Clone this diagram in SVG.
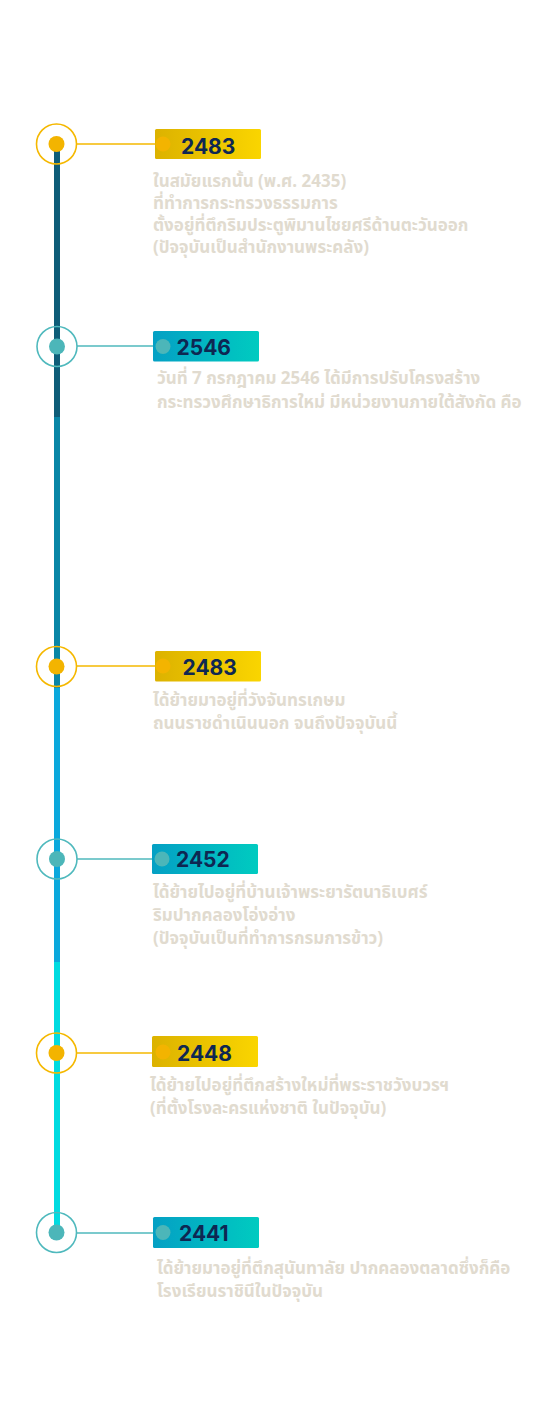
<svg xmlns="http://www.w3.org/2000/svg" width="554" height="1417" viewBox="0 0 554 1417">
<defs>
<linearGradient id="gGold" x1="0" y1="0" x2="1" y2="0"><stop offset="0" stop-color="#dcb200"/><stop offset="1" stop-color="#fad500"/></linearGradient>
<linearGradient id="gTeal" x1="0" y1="0" x2="1" y2="0"><stop offset="0" stop-color="#04a0c4"/><stop offset="1" stop-color="#00cbc0"/></linearGradient>
<style>
.ringG{fill:none;stroke:#f5b800;stroke-width:1.6}
.ringT{fill:none;stroke:#4fb9bd;stroke-width:1.6}
.dotG{fill:#f3b400}
.dotT{fill:#4cb6b9}
.lnG{stroke:#f5b800;stroke-width:1.6}
.lnT{stroke:#4fb9bd;stroke-width:1.6}
.yr{font-family:Inter,"Liberation Sans",sans-serif;font-weight:700;font-size:21px;fill:#0e2752}
.desc{font-family:"Noto Sans Thai","Noto Sans","Liberation Sans",sans-serif;font-weight:700;font-size:17px;fill:#e1dbcf}
</style>
</defs>
<rect width="554" height="1417" fill="#ffffff"/>
<g id="connectors">
<rect x="54" y="144" width="6" height="273" fill="#0e5d78"/>
<rect x="54" y="417" width="6" height="271" fill="#0986a6"/>
<rect x="54" y="688" width="6" height="274" fill="#0aa8dc"/>
<rect x="54" y="962" width="6" height="271" fill="#00dbe0"/>
<line class="lnG" x1="76" y1="144" x2="156" y2="144"/>
<line class="lnT" x1="77" y1="346" x2="154" y2="346"/>
<line class="lnG" x1="77" y1="666" x2="156" y2="666"/>
<line class="lnT" x1="77" y1="859" x2="153" y2="859"/>
<line class="lnG" x1="77" y1="1053" x2="153" y2="1053"/>
<line class="lnT" x1="77" y1="1233" x2="154" y2="1233"/>
</g>
<g id="node1">
<circle class="ringG" cx="56.5" cy="144" r="20"/><circle class="dotG" cx="56.5" cy="144" r="8"/>
<rect x="155" y="129" width="106" height="30" rx="1.5" fill="url(#gGold)"/>
<circle class="dotG" cx="163" cy="144" r="7.5"/>
<text class="yr" x="181" y="153.5">2483</text>
<text class="desc" x="153" y="187">ในสมัยแรกนั้น (พ.ศ. 2435)</text>
<text class="desc" x="153" y="209">ที่ทำการกระทรวงธรรมการ</text>
<text class="desc" x="153" y="231">ตั้งอยู่ที่ตึกริมประตูพิมานไชยศรีด้านตะวันออก</text>
<text class="desc" x="153" y="253">(ปัจจุบันเป็นสำนักงานพระคลัง)</text>
</g>
<g id="node2">
<circle class="ringT" cx="57" cy="346.5" r="20"/><circle class="dotT" cx="57" cy="346.5" r="8"/>
<rect x="153" y="331" width="106" height="30.5" rx="1.5" fill="url(#gTeal)"/>
<circle class="dotT" cx="163" cy="346.5" r="7.5"/>
<text class="yr" x="176.5" y="354.5">2546</text>
<text class="desc" x="157" y="384">วันที่ 7 กรกฎาคม 2546 ได้มีการปรับโครงสร้าง</text>
<text class="desc" x="157" y="408">กระทรวงศึกษาธิการใหม่ มีหน่วยงานภายใต้สังกัด คือ</text>
</g>
<g id="node3">
<circle class="ringG" cx="56.5" cy="666.5" r="20"/><circle class="dotG" cx="56.5" cy="666.5" r="8"/>
<rect x="155" y="651" width="106" height="30.5" rx="1.5" fill="url(#gGold)"/>
<circle class="dotG" cx="163" cy="666" r="7.5"/>
<text class="yr" x="182.5" y="675">2483</text>
<text class="desc" x="153" y="706">ได้ย้ายมาอยู่ที่วังจันทรเกษม</text>
<text class="desc" x="153" y="729">ถนนราชดำเนินนอก จนถึงปัจจุบันนี้</text>
</g>
<g id="node4">
<circle class="ringT" cx="57" cy="859" r="20"/><circle class="dotT" cx="57" cy="859" r="8"/>
<rect x="152" y="844" width="106" height="30" rx="1.5" fill="url(#gTeal)"/>
<circle class="dotT" cx="162" cy="859" r="7.5"/>
<text class="yr" x="176" y="867">2452</text>
<text class="desc" x="153" y="898">ได้ย้ายไปอยู่ที่บ้านเจ้าพระยารัตนาธิเบศร์</text>
<text class="desc" x="153" y="921">ริมปากคลองโอ่งอ่าง</text>
<text class="desc" x="153" y="944">(ปัจจุบันเป็นที่ทำการกรมการข้าว)</text>
</g>
<g id="node5">
<circle class="ringG" cx="56.5" cy="1053" r="20"/><circle class="dotG" cx="56.5" cy="1053" r="8"/>
<rect x="152" y="1036" width="106" height="31" rx="1.5" fill="url(#gGold)"/>
<circle class="dotG" cx="163" cy="1052" r="7.5"/>
<text class="yr" x="177" y="1061">2448</text>
<text class="desc" x="150" y="1091">ได้ย้ายไปอยู่ที่ตึกสร้างใหม่ที่พระราชวังบวรฯ</text>
<text class="desc" x="150" y="1114">(ที่ตั้งโรงละครแห่งชาติ ในปัจจุบัน)</text>
</g>
<g id="node6">
<circle class="ringT" cx="56.5" cy="1232.5" r="20"/><circle class="dotT" cx="56.5" cy="1232.5" r="8"/>
<rect x="153" y="1217" width="106" height="31" rx="1.5" fill="url(#gTeal)"/>
<circle class="dotT" cx="163" cy="1232.5" r="7.5"/>
<text class="yr" x="179" y="1241">2441</text>
<text class="desc" x="157" y="1274">ได้ย้ายมาอยู่ที่ตึกสุนันทาลัย ปากคลองตลาดซึ่งก็คือ</text>
<text class="desc" x="157" y="1297">โรงเรียนราชินีในปัจจุบัน</text>
</g>
</svg>
